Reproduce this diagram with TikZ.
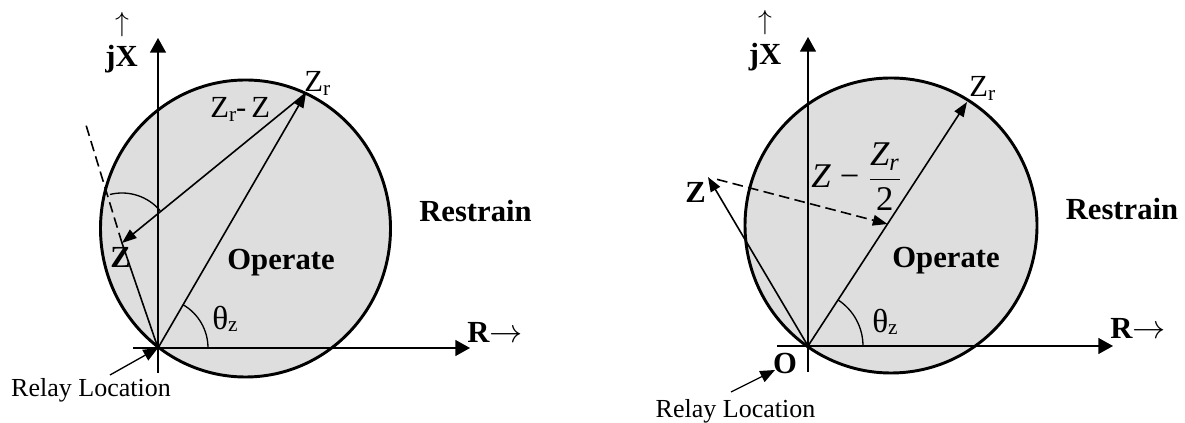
\documentclass[tikz,border=0pt]{standalone}
\usepackage{fontspec}
\setmainfont{Liberation Serif}
\usepackage{amsmath}
\usetikzlibrary{arrows.meta,calc}
\newcommand{\rsub}[1]{\raisebox{-2.6pt}{\fontsize{16}{16}\selectfont #1}}
\newcommand{\zsub}[1]{\raisebox{-1pt}{\fontsize{16}{16}\selectfont #1}}
\begin{document}
\begin{tikzpicture}[x=0.75pt,y=-0.75pt,
  axis/.style={line width=1pt,-{Triangle[length=11pt,width=12pt]}},
  vec/.style={line width=1.2pt,-{Triangle[length=11pt,width=8pt]}},
  plainvec/.style={line width=1.2pt},
  dashvec/.style={line width=1.2pt,dash pattern=on 8pt off 4pt},
  anglearc/.style={line width=1pt},
  relay/.style={line width=1pt,-{Triangle[length=11pt,width=9pt]}},
  boundary/.style={line width=2.2pt,fill=black!13},
  lbl/.style={font=\fontsize{23}{27}\selectfont,inner sep=0pt},
  arr/.style={font=\fontsize{21}{25}\selectfont,inner sep=0pt},
  mlbl/.style={font=\fontsize{26}{30}\selectfont,inner sep=0pt},
  blbl/.style={font=\fontsize{23}{27}\selectfont\bfseries,inner sep=0pt},
  small/.style={font=\fontsize{19.5}{23}\selectfont,inner sep=0pt}]
\useasboundingbox (0,0) rectangle (1185,423);

% ---------------- left diagram ----------------
\coordinate (O1) at (158,348);
\coordinate (Zr1) at (306,93);
\coordinate (Z1) at (122,243);
\coordinate (C1) at (245.5,228.5);
\coordinate (D1) at (86,125);
\coordinate (Yb1) at (158,373);
\coordinate (Yt1) at (158,38);
\coordinate (Xl1) at (133,348);
\coordinate (Xr1) at (470,348);
\coordinate (RL1) at (110,375);

\draw[boundary] (C1) ellipse [x radius=145, y radius=148.5];
\draw[axis] (Yb1) -- (Yt1);
\draw[axis] (Xl1) -- (Xr1);
\draw[plainvec] (O1) -- (Z1);
\draw[dashvec] (Z1) -- (D1);
\draw[vec] (O1) -- (Zr1);
\draw[vec] (Zr1) -- (Z1);
\draw[anglearc] ([shift={(-104:50)}]Z1) arc[start angle=-104,end angle=-40,radius=50];
\draw[anglearc] ([shift={(-59.9:50)}]O1) arc[start angle=-59.9,end angle=0,radius=50];
\draw[relay] (RL1) -- (O1);

\node[arr,anchor=center] (up1) at (122,25) {$\uparrow$};
\node[blbl,anchor=base] (jx1) at (121.5,67) {jX};
\node[lbl,anchor=base west] (zrlab1) at (304,92) {Z\rsub{r}};
\node[lbl,anchor=base west] (zrz1) at (210,118) {Z\rsub{r}-\,Z};
\node[blbl,anchor=base west] (zlab1) at (110,268) {Z};
\node[blbl,anchor=base] (op1) at (281,270) {Operate};
\node[blbl,anchor=base] (rs1) at (475.5,222) {Restrain};
\node[lbl,anchor=base west] (th1) at (212,330) {{\fontsize{25}{28}\selectfont θ}\zsub{z}};
\node[blbl,anchor=base west] (R1) at (467,343) {R$\rightarrow$};
\node[small,anchor=base] (rlt1) at (91,397) {Relay Location};

% ---------------- right diagram ----------------
\coordinate (O2) at (808,346);
\coordinate (Zr2) at (967,102);
\coordinate (Z2) at (708,177);
\coordinate (M2) at ($(O2)!0.5!(Zr2)$);
\coordinate (C2) at (891,225.5);
\coordinate (Yb2) at (808,372);
\coordinate (Yt2) at (808,37);
\coordinate (Xl2) at (777,346);
\coordinate (Xr2) at (1113,346);
\coordinate (RL2) at (731,392);
\coordinate (OT2) at (775,370);

\draw[boundary] (C2) ellipse [x radius=146, y radius=147.5];
\draw[axis] (Yb2) -- (Yt2);
\draw[axis] (Xl2) -- (Xr2);
\draw[vec] (O2) -- (Zr2);
\draw[vec] (O2) -- (Z2);
\draw[dashvec,-{Triangle[length=11pt,width=8pt]},shorten <=7pt] (Z2) -- (M2);
\draw[anglearc] ([shift={(-56.9:55)}]O2) arc[start angle=-56.9,end angle=0,radius=55];
\draw[relay] (RL2) -- (OT2);

\node[arr,anchor=center] (up2) at (765,23) {$\uparrow$};
\node[blbl,anchor=base] (jx2) at (765,65) {jX};
\node[lbl,anchor=base west] (zrlab2) at (969,97) {Z\rsub{r}};
\node[mlbl,anchor=base west] (frac2) at (811,188)
  {$\textit{Z}\;\mbox{−}\;\dfrac{\textit{Z}_{\textit{r}}}{\textrm{2}}$};
\node[blbl,anchor=base west] (zlab2) at (685,203) {Z};
\node[blbl,anchor=base] (op2) at (946,268) {Operate};
\node[blbl,anchor=base] (rs2) at (1122,220) {Restrain};
\node[lbl,anchor=base west] (th2) at (872,333) {{\fontsize{25}{28}\selectfont θ}\zsub{z}};
\node[blbl,anchor=base west] (R2) at (1110,339) {R$\rightarrow$};
\node[blbl,anchor=base] (olab2) at (785,374) {O};
\node[small,anchor=base] (rlt2) at (735.5,418) {Relay Location};
\end{tikzpicture}
\end{document}
